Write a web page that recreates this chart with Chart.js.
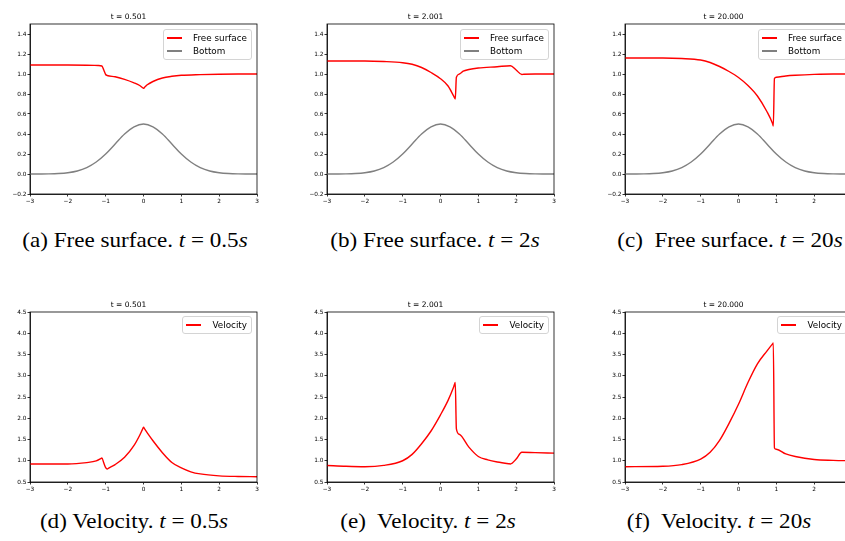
<!DOCTYPE html>
<html>
<head>
<meta charset="UTF-8">
<title>Free surface and velocity</title>
<script src="https://cdn.jsdelivr.net/npm/chart.js"></script>
<style>
  body { margin: 0; width: 845px; height: 541px; overflow: hidden; background: #fff; position: relative; }
  .panel { position: absolute; width: 265px; height: 204px; }
  .panel canvas { position: absolute; left: 0; top: 0; }
  .legend { position: absolute; right: 13px; border: 1px solid #d4d4d4; border-radius: 3px;
            background: rgba(255,255,255,0.8); padding: 1px 4px 2px 3px;
            font-family: "DejaVu Sans"; font-size: 8.8px; color: #000; }
  .legend .item { height: 13px; display: flex; align-items: center; white-space: nowrap; }
  .legend .swatch { flex: none; display: block; width: 15px; height: 2px; margin-right: 11px; }
  .caption { position: absolute; height: 22px; line-height: 22px; transform: translateX(-50%) scaleX(1.1);
             font-family: "Liberation Serif"; font-size: 21px; white-space: pre; color: #000; }
</style>
</head>
<body>
  <div class="panel" id="pa" style="left:0px;top:4px"><canvas id="ca" width="265" height="204"></canvas></div>
  <div class="panel" id="pb" style="left:297px;top:4px"><canvas id="cb" width="265" height="204"></canvas></div>
  <div class="panel" id="pc" style="left:595px;top:4px"><canvas id="cc" width="265" height="204"></canvas></div>
  <div class="panel" id="pd" style="left:0px;top:292px"><canvas id="cd" width="265" height="204"></canvas></div>
  <div class="panel" id="pe" style="left:297px;top:292px"><canvas id="ce" width="265" height="204"></canvas></div>
  <div class="panel" id="pf" style="left:595px;top:292px"><canvas id="cf" width="265" height="204"></canvas></div>

  <div class="caption" style="left:135px;top:229px">(a) Free surface. <i>t</i> = 0.5<i>s</i></div>
  <div class="caption" style="left:435px;top:229px">(b) Free surface. <i>t</i> = 2<i>s</i></div>
  <div class="caption" style="left:730px;top:229px">(c)  Free surface. <i>t</i> = 20<i>s</i></div>
  <div class="caption" style="left:134px;top:510px">(d) Velocity. <i>t</i> = 0.5<i>s</i></div>
  <div class="caption" style="left:428px;top:510px">(e)  Velocity. <i>t</i> = 2<i>s</i></div>
  <div class="caption" style="left:719px;top:510px">(f)  Velocity. <i>t</i> = 20<i>s</i></div>

<script>
// axis ticks
const xTicks = [-3, -2, -1, 0, 1, 2, 3];
const xTickLabels = ['\u22123', '\u22122', '\u22121', '0', '1', '2', '3'];
const surfTicks = [-0.2, 0, 0.2, 0.4, 0.6, 0.8, 1.0, 1.2, 1.4];
const surfTickLabels = ['\u22120.2', '0.0', '0.2', '0.4', '0.6', '0.8', '1.0', '1.2', '1.4'];
const velTicks = [0.5, 1.0, 1.5, 2.0, 2.5, 3.0, 3.5, 4.0, 4.5];
const velTickLabels = ['0.5', '1.0', '1.5', '2.0', '2.5', '3.0', '3.5', '4.0', '4.5'];

const titles = ['t = 0.501', 't = 2.001', 't = 20.000'];

// bottom topography (same in all three surface plots)
const bottomX = [-3, -2.75, -2.5, -2.25, -2, -1.75, -1.5, -1.25, -1, -0.75, -0.5, -0.25, 0,
                 0.25, 0.5, 0.75, 1, 1.25, 1.5, 1.75, 2, 2.25, 2.5, 2.75, 3];
const bottomY = [0, 0.0005, 0.0016, 0.005, 0.013, 0.03, 0.064, 0.12, 0.2, 0.3, 0.4, 0.472, 0.5,
                 0.472, 0.4, 0.3, 0.2, 0.12, 0.064, 0.03, 0.013, 0.005, 0.0016, 0.0005, 0];

// free surface
const surf05X = [-3, -2, -1.5, -1.2, -1.1, -1.05, -1.0, -0.96, -0.75, -0.5, -0.25, -0.1, -0.03, 0,
                 0.03, 0.1, 0.25, 0.5, 0.75, 1, 1.5, 2, 2.5, 3];
const surf05Y = [1.09, 1.09, 1.088, 1.085, 1.08, 1.04, 0.995, 0.985, 0.972, 0.947, 0.912, 0.885, 0.865, 0.857,
                 0.867, 0.892, 0.925, 0.96, 0.977, 0.987, 0.994, 0.998, 1.0, 1.0];

const surf2X = [-3, -2, -1.5, -1, -0.75, -0.5, -0.25, 0, 0.2, 0.35, 0.39, 0.42, 0.5, 0.6, 0.75,
                1, 1.5, 1.85, 2.0, 2.15, 2.2, 2.5, 3];
const surf2Y = [1.13, 1.13, 1.125, 1.113, 1.097, 1.065, 1.015, 0.953, 0.88, 0.778, 0.75, 0.967, 1.0, 1.028, 1.045,
                1.06, 1.073, 1.083, 1.04, 0.995, 0.997, 1.0, 1.0];

const surf20X = [-3, -2, -1.5, -1, -0.75, -0.5, -0.25, 0, 0.25, 0.5, 0.75, 0.9, 0.92, 0.95, 1.0,
                 1.25, 1.5, 2, 2.5, 3];
const surf20Y = [1.16, 1.16, 1.155, 1.14, 1.115, 1.075, 1.025, 0.965, 0.885, 0.78, 0.625, 0.505, 0.48, 0.955, 0.968,
                 0.98, 0.987, 0.996, 1.0, 1.0];

// velocity
const vel05X = [-3, -2, -1.5, -1.25, -1.13, -1.1, -1.05, -1.0, -0.96, -0.92, -0.75, -0.5, -0.25, -0.1, -0.03, 0,
                0.03, 0.1, 0.25, 0.5, 0.75, 1, 1.25, 1.5, 2, 2.5, 3];
const vel05Y = [0.924, 0.924, 0.956, 0.995, 1.05, 1.066, 0.95, 0.84, 0.806, 0.826, 0.91, 1.08, 1.36, 1.6, 1.733, 1.79,
                1.748, 1.655, 1.47, 1.19, 0.96, 0.83, 0.74, 0.69, 0.645, 0.63, 0.625];

const vel2X = [-3, -2.5, -2, -1.5, -1, -0.75, -0.5, -0.25, 0, 0.2, 0.35, 0.39, 0.42, 0.5, 0.75,
               1, 1.25, 1.5, 1.8, 1.85, 2.0, 2.15, 2.5, 3];
const vel2Y = [0.89, 0.87, 0.86, 0.89, 1.0, 1.15, 1.4, 1.7, 2.08, 2.42, 2.74, 2.84, 1.75, 1.62, 1.32,
               1.1, 1.02, 0.97, 0.93, 0.925, 1.04, 1.2, 1.19, 1.18];

const vel20X = [-3, -2, -1.5, -1, -0.75, -0.5, -0.25, 0, 0.25, 0.5, 0.75, 0.9, 0.92, 0.95, 1.0,
                1.25, 1.5, 2, 2.5, 3];
const vel20Y = [0.86, 0.87, 0.91, 1.04, 1.2, 1.48, 1.88, 2.33, 2.84, 3.28, 3.58, 3.75, 3.77, 1.3, 1.27,
                1.16, 1.1, 1.03, 1.01, 1.0];

const RED = '#ff0000';
const GREY = '#808080';

const framePlugin = {
  id: 'frame',
  afterDraw(chart) {
    const a = chart.chartArea, c = chart.ctx;
    c.save();
    c.strokeStyle = '#000';
    c.lineWidth = 0.8;
    c.strokeRect(a.left, a.top, a.right - a.left, a.bottom - a.top);
    c.restore();
  }
};

const tickFont = { family: 'DejaVu Sans', size: 5.8 };

function axisGrid() {
  return { display: true, drawOnChartArea: false, drawTicks: true, tickLength: 2.5, color: '#000', lineWidth: 0.8 };
}

function makeChart(canvasId, title, yMin, yMax, yTicks, yLabels, series) {
  return new Chart(document.getElementById(canvasId), {
    type: 'line',
    data: {
      datasets: series.map(s => ({
        label: s.label,
        data: s.x.map((x, i) => ({ x: x, y: s.y[i] })),
        borderColor: s.color,
        borderWidth: 1.4,
        pointRadius: 0,
        cubicInterpolationMode: 'monotone',
        fill: false
      }))
    },
    options: {
      responsive: false,
      animation: false,
      layout: { padding: { left: 0, right: 8, top: 0, bottom: 0 } },
      plugins: {
        legend: { display: false },
        tooltip: { enabled: false },
        title: {
          display: true, text: title, color: '#000',
          font: { family: 'DejaVu Sans', size: 7.5, weight: 'normal', lineHeight: 1.2 },
          padding: { top: 9, bottom: 2 }
        }
      },
      scales: {
        x: {
          type: 'linear', min: -3, max: 3,
          afterBuildTicks: ax => { ax.ticks = xTicks.map(v => ({ value: v })); },
          afterFit: sc => { sc.height = 14; },
          ticks: { callback: (v, i) => xTickLabels[i], font: tickFont, color: '#000', padding: 1.5, maxRotation: 0, autoSkip: false },
          grid: axisGrid(),
          border: { display: true, color: '#000', width: 0.8 }
        },
        y: {
          type: 'linear', min: yMin, max: yMax,
          afterBuildTicks: ax => { ax.ticks = yTicks.map(v => ({ value: v })); },
          afterFit: sc => { sc.width = 30; },
          ticks: { callback: (v, i) => yLabels[i], font: tickFont, color: '#000', padding: 1, autoSkip: false },
          grid: axisGrid(),
          border: { display: true, color: '#000', width: 0.8 }
        }
      }
    },
    plugins: [framePlugin]
  });
}

function addLegend(panelId, series, top) {
  const box = document.createElement('div');
  box.className = 'legend';
  box.style.top = top + 'px';
  series.forEach(s => {
    const row = document.createElement('div');
    row.className = 'item';
    const sw = document.createElement('span');
    sw.className = 'swatch';
    sw.style.backgroundColor = s.color;
    const txt = document.createElement('span');
    txt.textContent = s.label;
    row.appendChild(sw);
    row.appendChild(txt);
    box.appendChild(row);
  });
  document.getElementById(panelId).appendChild(box);
}

const bottom = { label: 'Bottom', x: bottomX, y: bottomY, color: GREY };
const surfSeries = [
  [{ label: 'Free surface', x: surf05X, y: surf05Y, color: RED }, bottom],
  [{ label: 'Free surface', x: surf2X, y: surf2Y, color: RED }, bottom],
  [{ label: 'Free surface', x: surf20X, y: surf20Y, color: RED }, bottom]
];
const velSeries = [
  [{ label: 'Velocity', x: vel05X, y: vel05Y, color: RED }],
  [{ label: 'Velocity', x: vel2X, y: vel2Y, color: RED }],
  [{ label: 'Velocity', x: vel20X, y: vel20Y, color: RED }]
];

['a', 'b', 'c'].forEach((k, i) => {
  makeChart('c' + k, titles[i], -0.2, 1.5, surfTicks, surfTickLabels, surfSeries[i]);
  addLegend('p' + k, surfSeries[i], 25);
});
['d', 'e', 'f'].forEach((k, i) => {
  makeChart('c' + k, titles[i], 0.5, 4.5, velTicks, velTickLabels, velSeries[i]);
  addLegend('p' + k, velSeries[i], 24);
});
</script>
</body>
</html>
